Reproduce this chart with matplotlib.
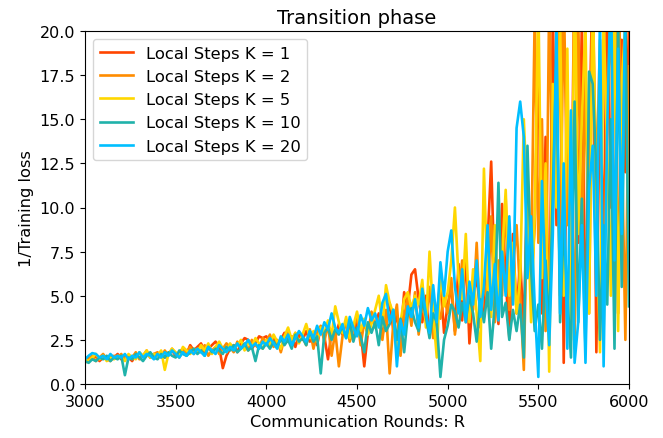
import numpy as np
import matplotlib
matplotlib.use("Agg")
import matplotlib.pyplot as plt

rounds = list(range(3000, 6001, 20))

k1 = [1.3, 1.5, 1.4, 1.6, 1.3, 1.5, 1.4, 1.6, 1.5, 1.7,
      1.4, 1.6, 1.5, 1.3, 1.7, 1.5, 1.6, 1.8, 1.5, 1.7,
      1.6, 1.8, 1.5, 1.7, 1.9, 1.6, 1.8, 2.0, 1.7, 2.2,
      1.9, 2.1, 2.3, 1.8, 2.0, 2.2, 2.4, 2.1, 0.9, 1.6,
      2.0, 2.2, 1.8, 2.3, 2.6, 2.5, 2.0, 2.3, 2.7, 2.6,
      2.7, 2.3, 2.6, 2.2, 2.5, 2.9, 2.4, 2.7, 2.1, 2.8,
      2.5, 3.0, 2.4, 2.8, 2.2, 3.2, 2.7, 1.4, 3.0, 2.6,
      3.4, 2.8, 3.6, 3.2, 2.5, 3.5, 3.0, 1.0, 2.9, 3.8,
      3.3, 4.0, 2.8, 3.6, 4.6, 3.1, 3.9, 2.6, 5.2, 4.3,
      6.2, 6.5, 4.8, 3.5, 5.0, 2.7, 4.6, 3.9, 5.8, 2.9,
      4.5, 5.5, 3.0, 6.8, 3.6, 7.5, 2.3, 5.0, 6.0, 4.2,
      3.8, 8.0, 12.6, 5.5, 3.4, 10.2, 6.0, 2.6, 8.5, 4.0,
      7.0, 3.0, 12.0, 5.5, 9.0, 18.9, 4.0, 14.0, 2.5, 21.0,
      9.0, 22.0, 1.2, 16.5, 6.0, 25.0, 8.0, 20.5, 3.5, 13.0,
      24.0, 1.8, 17.5, 7.0, 23.0, 10.0, 21.0, 4.0, 19.5, 12.0,
      20.5]

k2 = [1.2, 1.4, 1.6, 1.3, 1.5, 1.7, 1.4, 1.3, 1.6, 1.5,
      1.7, 1.4, 1.6, 1.5, 1.8, 1.4, 1.6, 1.9, 1.5, 1.7,
      1.8, 1.5, 1.9, 1.6, 2.0, 1.7, 1.5, 1.9, 1.8, 2.1,
      1.7, 2.0, 1.8, 2.2, 1.6, 1.9, 2.1, 1.7, 2.0, 2.3,
      2.1, 1.8, 2.4, 2.0, 2.2, 1.9, 2.5, 2.2, 2.0, 2.6,
      2.4, 2.8, 2.1, 2.5, 1.8, 2.6, 3.0, 2.3, 2.9, 2.4,
      2.7, 2.2, 3.1, 2.0, 2.9, 3.3, 2.4, 3.4, 1.6, 3.0,
      1.0, 2.7, 3.6, 2.4, 3.1, 3.9, 2.2, 3.5, 2.8, 4.1,
      3.2, 3.7, 2.5, 4.2, 0.6, 3.4, 4.5, 1.6, 3.8, 4.9,
      3.3, 5.2, 2.8, 4.6, 3.6, 5.5, 2.6, 4.4, 3.7, 5.0,
      4.0, 6.0, 2.8, 4.8, 7.0, 3.5, 5.6, 4.2, 8.0, 3.2,
      5.8, 4.5, 9.5, 3.5, 7.0, 5.0, 10.5, 4.2, 6.5, 9.0,
      5.0, 0.8, 11.0, 6.5, 21.0, 8.0, 15.0, 3.0, 22.0, 10.0,
      17.0, 5.0, 23.0, 9.0, 14.0, 2.0, 21.0, 7.5, 18.0, 4.0,
      22.0, 11.0, 19.5, 3.0, 16.0, 21.0, 6.0, 24.0, 14.0, 2.5,
      18.0]

k5 = [1.4, 1.3, 1.5, 1.7, 1.4, 1.6, 1.3, 1.5, 1.4, 1.6,
      1.5, 1.3, 1.7, 1.5, 1.4, 1.8, 1.6, 1.9, 1.5, 1.7,
      1.6, 1.9, 0.8, 1.7, 2.0, 1.8, 1.6, 2.1, 1.9, 1.7,
      2.0, 1.8, 2.2, 1.9, 2.3, 1.7, 2.1, 2.4, 2.0, 1.8,
      2.3, 2.0, 2.2, 2.5, 1.9, 2.4, 2.1, 2.6, 2.3, 2.0,
      2.5, 2.2, 2.8, 2.4, 2.0, 2.7, 3.2, 2.5, 2.9, 2.3,
      2.8, 3.4, 2.6, 3.0, 2.4, 3.2, 2.9, 3.6, 2.7, 4.4,
      3.5, 2.9, 3.8, 2.6, 3.3, 4.1, 3.0, 3.7, 2.8, 3.4,
      4.2, 5.0, 3.3, 5.6, 4.6, 4.0, 1.6, 3.5, 4.8, 5.2,
      4.3, 5.0, 4.5, 5.9, 3.2, 7.5, 4.0, 1.5, 6.3, 4.4,
      5.2, 7.0, 10.0, 6.0, 4.8, 8.5, 3.5, 6.5, 4.0, 1.3,
      12.2, 5.5, 3.8, 9.0, 4.5, 7.2, 11.0, 5.0, 8.0, 4.0,
      6.0, 15.0, 10.0, 3.5, 9.5, 22.0, 6.0, 12.5, 0.7, 17.0,
      10.0, 21.0, 5.0, 19.0, 2.5, 24.0, 8.5, 15.0, 20.5, 4.0,
      23.0, 9.5, 1.8, 21.0, 13.0, 5.0, 22.0, 3.0, 17.0, 20.5,
      21.0]

k10 = [1.3, 1.2, 1.4, 1.3, 1.5, 1.4, 1.6, 1.3, 1.5, 1.4,
       1.6, 0.5, 1.5, 1.4, 1.7, 1.5, 1.3, 1.6, 1.8, 1.5,
       1.4, 1.7, 1.5, 1.8, 1.6, 1.5, 1.9, 1.7, 1.6, 1.8,
       2.0, 1.7, 1.9, 1.6, 2.1, 1.8, 2.0, 1.9, 1.7, 2.1,
       1.9, 2.2, 1.8, 2.0, 2.3, 1.9, 2.1, 1.3, 2.2, 2.0,
       2.3, 2.0, 2.4, 2.1, 2.6, 2.2, 2.5, 2.0, 2.8, 2.4,
       2.6, 2.2, 3.0, 2.4, 2.7, 0.6, 2.9, 3.2, 2.5, 3.1,
       2.8, 3.3, 2.6, 3.6, 2.4, 3.2, 2.7, 1.8, 3.5, 2.9,
       3.5, 2.2, 3.8, 3.0, 3.4, 4.2, 2.5, 3.7, 1.8, 3.9,
       4.3, 3.5, 3.0, 4.8, 3.8, 2.6, 4.0, 3.5, 0.4, 2.5,
       3.3, 4.5, 4.1, 3.2, 4.6, 3.6, 5.0, 4.0, 2.4, 4.8,
       3.5, 5.2, 2.0, 4.5, 11.4, 3.8, 4.6, 2.5, 4.2, 3.0,
       4.5, 1.5, 13.5, 6.5, 3.0, 4.5, 2.0, 7.0, 3.0, 11.0,
       18.4, 3.5, 9.0, 5.0, 1.5, 16.0, 3.5, 10.5, 2.0, 17.7,
       17.0, 12.0, 2.5, 9.0, 4.5, 15.0, 2.0, 20.5, 5.5, 21.0,
       4.4]

k20 = [1.4, 1.6, 1.75, 1.7, 1.5, 1.6, 1.4, 1.7, 1.5, 1.6,
       1.5, 1.7, 1.4, 1.6, 1.5, 1.8, 1.5, 1.7, 1.6, 1.4,
       1.7, 1.5, 1.8, 1.6, 1.9, 1.7, 1.5, 1.8, 1.6, 1.9,
       1.7, 2.0, 1.8, 1.6, 2.1, 1.9, 1.7, 2.2, 2.0, 1.8,
       2.1, 1.9, 2.3, 2.0, 2.2, 2.5, 2.1, 2.3, 2.0, 2.4,
       2.2, 2.6, 2.3, 2.0, 2.7, 2.4, 2.8, 2.2, 2.6, 3.0,
       2.7, 2.4, 3.0, 2.6, 3.3, 2.8, 3.5, 3.1, 4.0, 3.2,
       2.9, 3.4, 2.6, 3.8, 3.2, 2.7, 3.9, 3.3, 4.3, 3.6,
       4.0, 3.2, 4.6, 5.1, 3.5, 4.2, 1.0, 3.6, 2.8, 4.4,
       3.8, 4.8, 3.2, 5.4, 4.0, 2.9, 5.6, 3.5, 6.9, 5.0,
       7.5, 8.7, 5.5, 4.0, 6.5, 3.5, 5.8, 4.5, 7.0, 3.8,
       5.5, 9.0, 4.2, 6.8, 3.6, 7.5, 5.0, 9.5, 4.5, 14.5,
       16.0, 14.0, 6.0, 9.5, 4.5, 0.4, 11.5, 5.5, 2.2, 8.5,
       20.5, 4.0, 12.5, 2.0, 15.5, 1.2, 3.5, 9.0, 1.2, 11.0,
       13.5, 5.0, 21.0, 1.0, 14.5, 23.0, 7.0, 19.0, 8.5, 22.0,
       20.5]

labels = ["Local Steps K = 1", "Local Steps K = 2", "Local Steps K = 5",
          "Local Steps K = 10", "Local Steps K = 20"]
colors = ["#ff4500", "#ff8c00", "#ffd700", "#20b2aa", "#00bfff"]
series = [k1, k2, k5, k10, k20]

fig = plt.figure(figsize=(6.63, 4.39), dpi=100)
ax = fig.add_axes([85/663, 1 - 385/439, (629 - 85)/663, (385 - 32)/439])
for y, c, lab in zip(series, colors, labels):
    ax.plot(rounds, y, color=c, lw=1.9, label=lab)

ax.set_xlim(3000, 6000)
ax.set_ylim(0, 20)
ax.set_xticks([3000, 3500, 4000, 4500, 5000, 5500, 6000])
ax.set_yticks(np.arange(0, 20.1, 2.5))
ax.set_xlabel("Communication Rounds: R", fontsize=11.7)
ax.set_ylabel("1/Training loss", fontsize=11.7)
ax.set_title("Transition phase", fontsize=14)
ax.tick_params(labelsize=11.5)
ax.legend(loc="upper left", fontsize=11.8)

fig.savefig("out.png", dpi=100)
